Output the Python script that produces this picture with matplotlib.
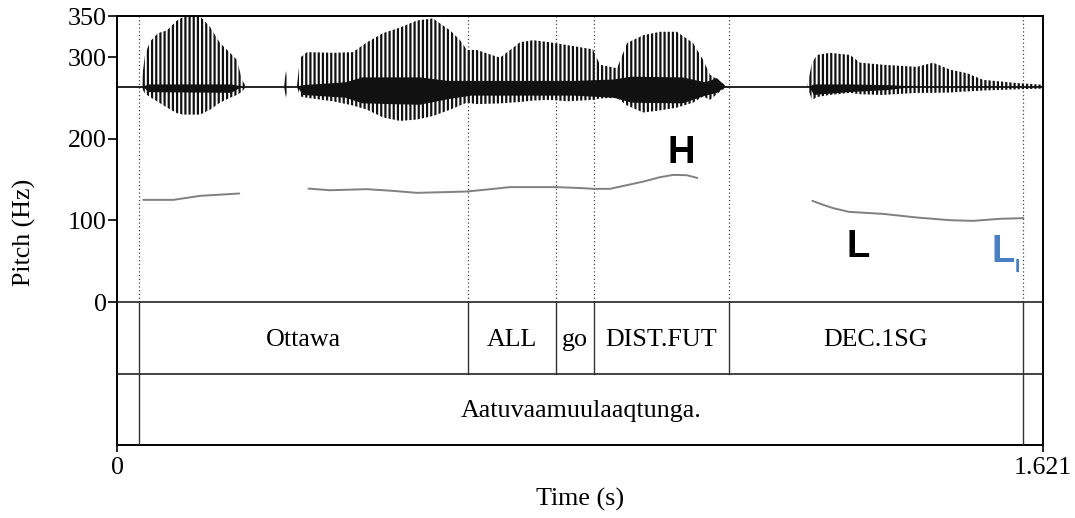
import matplotlib
matplotlib.use('Agg')
import matplotlib.pyplot as plt
import numpy as np

# ---------------- data ----------------
duration = 1.621
pitch_ticks = [0, 100, 200, 300, 350]
time_ticks = [0, 1.621]
time_tick_labels = ['0', '1.621']

tier1_bounds = [0.039, 0.6145, 0.768, 0.835, 1.071, 1.5856]
tier1_labels = ['Ottawa', 'ALL', 'go', 'DIST.FUT', 'DEC.1SG']
tier2_bounds = [0.039, 1.5856]
tier2_labels = ['Aatuvaamuulaaqtunga.']

# pitch contour (s, Hz), three voiced stretches
pitch1_t = [0.046, 0.0986, 0.1453, 0.2141]
pitch1_hz = [125.2, 125.2, 130.1, 133.0]
pitch2_t = [0.335, 0.373, 0.437, 0.4837, 0.5247, 0.6122, 0.6408, 0.688, 0.770,
            0.8164, 0.834, 0.863, 0.8923, 0.9214, 0.9506, 0.974, 0.9974, 1.016]
pitch2_hz = [139.0, 137.0, 138.3, 136.2, 133.8, 135.4, 137.4, 140.8, 140.8,
             139.5, 138.7, 138.7, 143.2, 147.6, 153.0, 155.8, 155.4, 152.0]
pitch3_t = [1.2173, 1.2365, 1.254, 1.2815, 1.3416, 1.400, 1.4583, 1.499, 1.5459, 1.5867]
pitch3_hz = [124.0, 119.0, 115.0, 110.5, 108.0, 103.6, 100.3, 99.5, 102.0, 102.8]

# waveform envelope (relative amplitude, 1 = top of panel)
wave_t = [0.0, 0.042, 0.049, 0.0578, 0.0718, 0.0875, 0.105, 0.1155, 0.1453, 0.1628,
          0.1803, 0.1978, 0.210, 0.2188, 0.2258,
          0.292, 0.296, 0.300,
          0.315, 0.3204, 0.3326, 0.378, 0.413, 0.4377, 0.4657, 0.4954, 0.525, 0.553,
          0.583, 0.6005, 0.6127, 0.630, 0.6705, 0.7055, 0.728, 0.758, 0.788, 0.833,
          0.8456, 0.8753, 0.893, 0.921, 0.9506, 0.980, 1.0084, 1.026, 1.038, 1.0557, 1.068,
          1.208, 1.2167, 1.2255, 1.248, 1.283, 1.3008, 1.341, 1.4006, 1.4286, 1.4583,
          1.488, 1.516, 1.5756, 1.621]
wave_up = [0.0, 0.0, 0.45, 0.64, 0.76, 0.80, 0.94, 0.99, 1.0, 0.85,
           0.62, 0.48, 0.38, 0.095, 0.0,
           0.0, 0.23, 0.0,
           0.0, 0.41, 0.49, 0.48, 0.49, 0.63, 0.76, 0.84, 0.94, 0.97,
           0.80, 0.66, 0.52, 0.52, 0.41, 0.63, 0.66, 0.63, 0.59, 0.53,
           0.31, 0.26, 0.62, 0.73, 0.78, 0.78, 0.62, 0.38, 0.17, 0.07, 0.0,
           0.0, 0.34, 0.45, 0.48, 0.45, 0.34, 0.31, 0.28, 0.34, 0.24,
           0.19, 0.095, 0.05, 0.025]
wave_lo = [0.0, 0.0, -0.10, -0.15, -0.22, -0.30, -0.38, -0.40, -0.40, -0.33,
           -0.23, -0.16, -0.12, -0.075, 0.0,
           0.0, -0.16, 0.0,
           0.0, -0.14, -0.16, -0.21, -0.27, -0.33, -0.44, -0.49, -0.47, -0.42,
           -0.33, -0.27, -0.23, -0.25, -0.24, -0.22, -0.20, -0.19, -0.21, -0.19,
           -0.17, -0.16, -0.27, -0.37, -0.34, -0.30, -0.23, -0.14, -0.19, -0.07, 0.0,
           0.0, -0.19, -0.15, -0.12, -0.09, -0.11, -0.12, -0.09, -0.09, -0.085,
           -0.07, -0.057, -0.04, -0.03]
core_t = [0.046, 0.055, 0.200, 0.220,
          0.316, 0.325, 0.400, 0.430, 0.530, 0.580, 0.620, 0.800, 0.870, 0.900,
          0.990, 1.030, 1.050, 1.066,
          1.212, 1.220, 1.280, 1.350, 1.400]
core_up = [0.0, 0.03, 0.03, 0.0,
           0.0, 0.02, 0.06, 0.13, 0.13, 0.08, 0.08, 0.08, 0.10, 0.14,
           0.13, 0.06, 0.12, 0.0,
           0.0, 0.03, 0.03, 0.02, 0.0]
core_lo = [0.0, -0.08, -0.09, 0.0,
           0.0, -0.12, -0.16, -0.24, -0.26, -0.18, -0.13, -0.13, -0.16, -0.23,
           -0.24, -0.13, -0.09, 0.0,
           0.0, -0.12, -0.08, -0.05, 0.0]

# tone labels
tone_H = ('H', 0.987, 170.0)
tone_L = ('L', 1.297, 55.0)
tone_LI = ('L', 1.530, 48.5)
tone_LI_sub = ('I', 1.5715, 37.0)

# ---------------- figure ----------------
plt.rcParams['hatch.linewidth'] = 1.6
serif = ['Liberation Serif', 'DejaVu Serif']
sans = ['Liberation Sans', 'DejaVu Sans']
fs = 18.7

fig = plt.figure(figsize=(10.75, 5.18), dpi=100)
ax = fig.add_axes([117 / 1075, 1 - 445 / 518, 926 / 1075, (445 - 16.3) / 518])
ax.set_xlim(0, duration)
ax.set_ylim(-175, 350)

tier_h = 87.5
wave_base = 264.0
wave_scale = 86.0

# dotted boundary lines in the pitch panel
for b in tier1_bounds:
    ax.plot([b, b], [0, 350], color='#444444', lw=0.9, ls=(0, (1, 2)), zorder=1)

# waveform
wt = np.array(wave_t)
ax.plot([0, duration], [wave_base, wave_base], color='black', lw=1.2, zorder=2)
ax.fill_between(wt, wave_base + wave_scale * np.array(wave_up),
                wave_base + wave_scale * np.array(wave_lo),
                facecolor='none', edgecolor='#111111', hatch='||||', linewidth=0, zorder=2)
ax.fill_between(np.array(core_t), wave_base + wave_scale * np.array(core_up),
                wave_base + wave_scale * np.array(core_lo),
                facecolor='#111111', edgecolor='none', linewidth=0, zorder=3)

# pitch contour
for t, h in [(pitch1_t, pitch1_hz), (pitch2_t, pitch2_hz), (pitch3_t, pitch3_hz)]:
    ax.plot(t, h, color='#808080', lw=1.4, zorder=4, solid_capstyle='round')

# tones
ax.text(tone_H[1], tone_H[2], tone_H[0], ha='center', va='baseline',
        fontsize=27.5, fontweight='bold', family=sans, color='black')
ax.text(tone_L[1], tone_L[2], tone_L[0], ha='center', va='baseline',
        fontsize=27.5, fontweight='bold', family=sans, color='black')
ax.text(tone_LI[1], tone_LI[2], tone_LI[0], ha='left', va='baseline',
        fontsize=27.5, fontweight='bold', family=sans, color='#4a7fc1')
ax.text(tone_LI_sub[1], tone_LI_sub[2], tone_LI_sub[0], ha='left', va='baseline',
        fontsize=14, fontweight='bold', family=sans, color='#4a7fc1')

# tiers
ax.axhline(0, color='#222222', lw=1.2, zorder=5)
ax.axhline(-tier_h, color='#222222', lw=1.2, zorder=5)
for b in tier1_bounds:
    ax.plot([b, b], [-tier_h, 0], color='#333333', lw=1.0, zorder=5)
for b in tier2_bounds:
    ax.plot([b, b], [-2 * tier_h, -tier_h], color='#333333', lw=1.0, zorder=5)
for i, lab in enumerate(tier1_labels):
    c = 0.5 * (tier1_bounds[i] + tier1_bounds[i + 1])
    ax.text(c, -53.5, lab, ha='center', va='baseline', fontsize=fs, family=serif)
for i, lab in enumerate(tier2_labels):
    c = 0.5 * (tier2_bounds[i] + tier2_bounds[i + 1])
    ax.text(c, -53.5 - tier_h, lab, ha='center', va='baseline', fontsize=fs, family=serif)

# axes
for s in ax.spines.values():
    s.set_linewidth(1.4)
    s.set_color('black')
ax.set_yticks(pitch_ticks)
ax.set_yticklabels([str(v) for v in pitch_ticks], family=serif, fontsize=fs)
ax.set_xticks(time_ticks)
ax.set_xticklabels(time_tick_labels, family=serif, fontsize=fs)
ax.tick_params(axis='y', direction='out', length=6.5, width=1.2, pad=1)
ax.tick_params(axis='x', direction='out', length=5, width=1.2, pad=4)

fig.text(580 / 1075, (518 - 506) / 518, 'Time (s)', ha='center', va='baseline',
         fontsize=fs, family=serif)
fig.text(24 / 1075, 1 - 232 / 518, 'Pitch (Hz)', ha='center', va='center',
         rotation=90, fontsize=fs, family=serif)

fig.savefig('out.png', dpi=100)
